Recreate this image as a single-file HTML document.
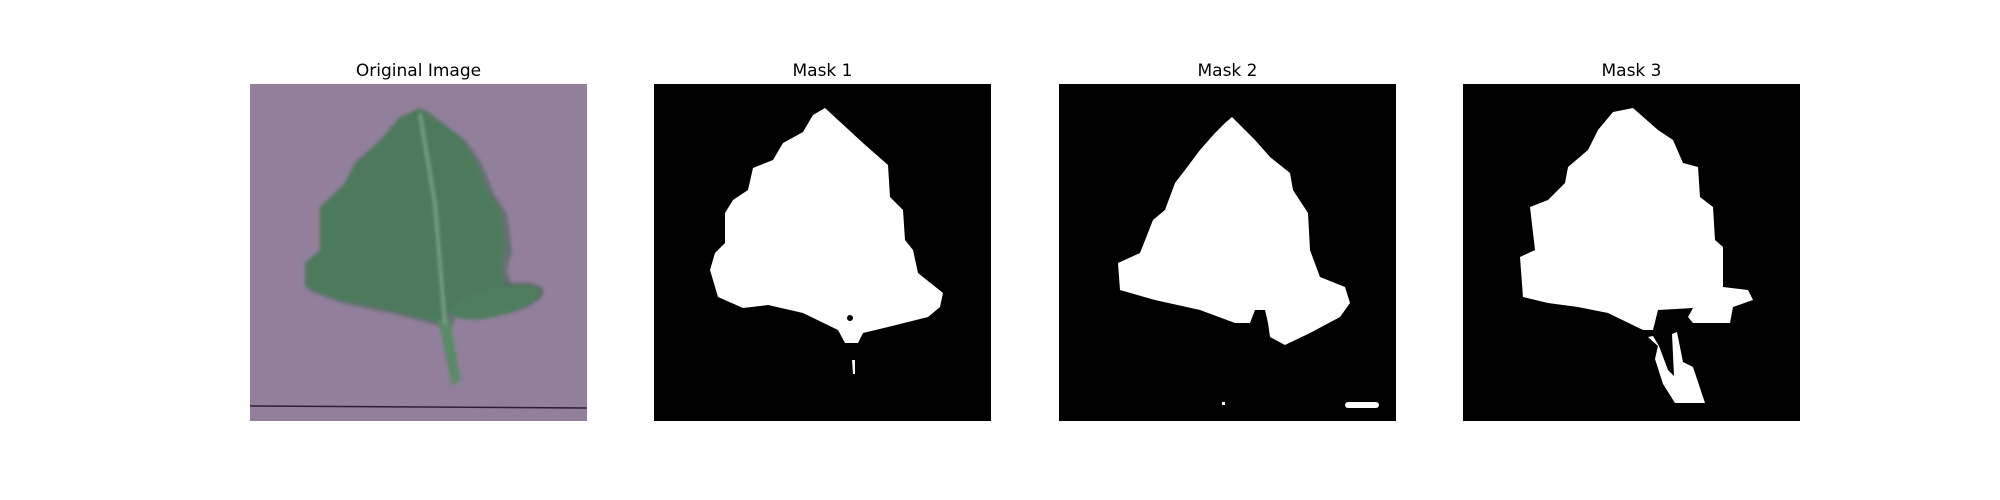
<!DOCTYPE html>
<html><head><meta charset="utf-8"><style>
html,body{margin:0;padding:0;background:#fff;}
body{width:2000px;height:500px;position:relative;overflow:hidden;font-family:"DejaVu Sans","Liberation Sans",sans-serif;}
.t{position:absolute;top:61px;font-size:17px;color:#000;text-align:center;width:337px;}
svg.p{position:absolute;top:84px;width:337px;height:337px;}
</style></head><body>
<div class="t" style="left:250px">Original Image</div>
<div class="t" style="left:654px">Mask 1</div>
<div class="t" style="left:1059px">Mask 2</div>
<div class="t" style="left:1463px">Mask 3</div>

<svg class="p" style="left:250px" viewBox="0 0 337 337">
<defs><filter id="b"><feGaussianBlur stdDeviation="1.5"/></filter></defs>
<rect width="337" height="337" fill="#8c7996"/>
<rect width="337" height="337" fill="#a090aa" opacity="0.3"/>
<g filter="url(#b)">
<ellipse cx="250" cy="216" rx="44" ry="15" transform="rotate(-12 250 216)" fill="#2e3d36" opacity="0.5"/>
<path d="M172,22 L212,53 L228,76 L240,106 L253,126 L258,163 L253,183 L258,199 L232,219 L202,229 L197,241 L140,226 L90,216 L55,203 L55,179 L70,166 L70,123 L95,99 L105,79 L130,56 L150,33 Z" fill="#3e5f4a" opacity="0.5" transform="translate(4,4)"/>
<path d="M170,24 L210,53 L225,76 L237,106 L250,126 L255,163 L250,183 L255,199 L230,219 L200,229 L195,239 L140,226 L90,216 L55,203 L55,179 L70,166 L70,123 L95,99 L105,79 L130,56 L150,33 Z" fill="#4d7a5c"/>
<ellipse cx="246" cy="218" rx="45" ry="14" transform="rotate(-14 246 218)" fill="#4f7e5e"/>
<path d="M188,236 L200,236 L210,296 L202,302 Z" fill="#5a8a66"/>
<path d="M170,30 L185,120 L195,240" stroke="#7aa287" stroke-width="3" fill="none"/>
</g>
<line x1="0" y1="322" x2="337" y2="324" stroke="#2a1e36" stroke-width="1.5"/>
</svg>

<svg class="p" style="left:654px" viewBox="0 0 337 337">
<rect width="337" height="337" fill="#000"/>
<path d="M171,24 L209,59 L234,81 L236,113 L249,126 L251,156 L259,166 L264,189 L289,209 L286,223 L274,233 L234,243 L209,249 L204,259 L191,259 L184,246 L149,229 L114,221 L89,224 L64,213 L56,186 L61,169 L71,159 L71,129 L79,116 L94,106 L99,84 L119,76 L129,59 L149,48 L159,31 Z" fill="#fff"/>
<circle cx="196" cy="234" r="3" fill="#000"/>
<path d="M198,276 L201,276 L201,290 L199,290 Z" fill="#fff"/>
</svg>

<svg class="p" style="left:1059px" viewBox="0 0 337 337">
<rect width="337" height="337" fill="#000"/>
<path d="M173,33 L196,56 L211,73 L231,89 L234,106 L249,129 L251,166 L261,193 L286,203 L291,219 L281,233 L251,249 L226,261 L211,253 L209,239 L206,226 L196,226 L191,239 L176,239 L141,226 L96,216 L61,206 L59,179 L81,169 L94,136 L106,126 L116,99 L126,86 L141,66 L156,49 L166,39 Z" fill="#fff"/>
<rect x="286" y="318" width="34" height="6" rx="3" fill="#fff"/>
<rect x="163" y="318" width="3" height="3" fill="#fff"/>
</svg>

<svg class="p" style="left:1463px" viewBox="0 0 337 337">
<rect width="337" height="337" fill="#000"/>
<path d="M170,24 L195,46 L210,56 L220,79 L235,83 L237,113 L250,123 L252,156 L260,163 L260,203 L285,206 L290,216 L270,223 L267,239 L230,239 L225,233 L230,224 L195,226 L190,246 L180,246 L145,229 L115,223 L85,219 L60,213 L57,173 L72,166 L67,123 L85,116 L102,99 L105,83 L125,66 L135,46 L150,28 Z" fill="#fff"/>
<path d="M185,253 L195,262 L192,275 L200,300 L212,319 L242,319 L235,298 L230,283 L220,278 L214,248 L209,250 L211,292 L205,286 L196,262 L190,252 Z" fill="#fff"/>
</svg>
</body></html>
